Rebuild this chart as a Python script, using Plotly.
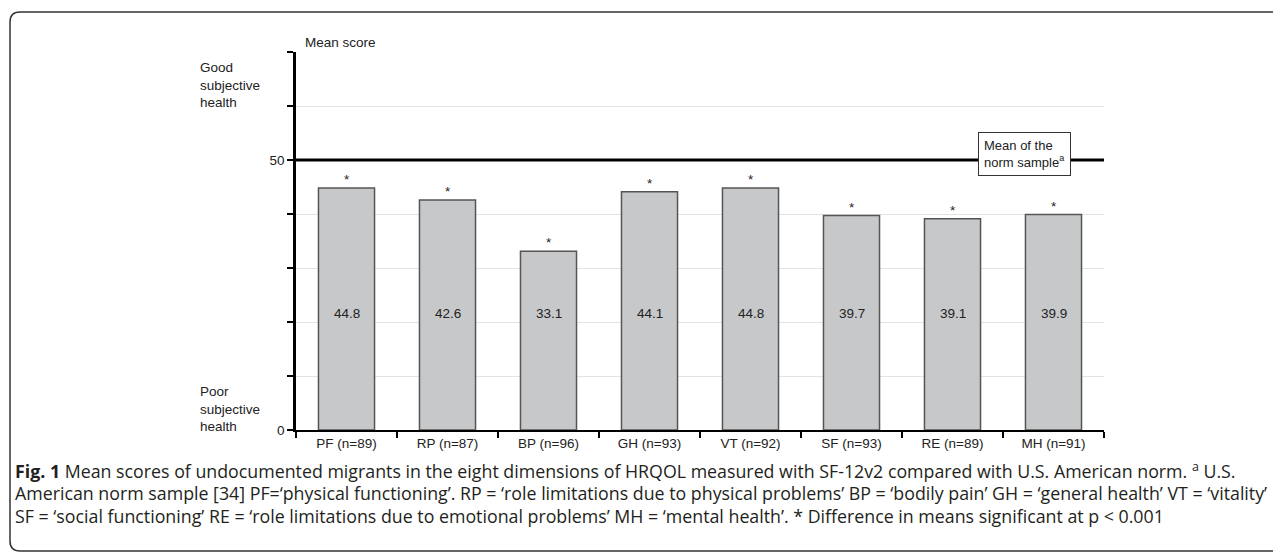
import plotly.graph_objects as go

categories = ["PF (n=89)", "RP (n=87)", "BP (n=96)", "GH (n=93)",
              "VT (n=92)", "SF (n=93)", "RE (n=89)", "MH (n=91)"]
means = [44.8, 42.6, 33.1, 44.1, 44.8, 39.7, 39.1, 39.9]
value_labels = ["44.8", "42.6", "33.1", "44.1", "44.8", "39.7", "39.1", "39.9"]
norm_mean = 50
y_tickvals = [0, 10, 20, 30, 40, 50, 60, 70]
y_ticktext = ["0", "", "", "", "", "50", "", ""]

caption_lines = [
    "<b>Fig. 1</b> Mean scores of undocumented migrants in the eight dimensions of HRQOL measured with SF-12v2 compared with U.S. American norm. <sup>a</sup> U.S.",
    "American norm sample [34] PF=\u2018physical functioning\u2019. RP = \u2018role limitations due to physical problems\u2019 BP = \u2018bodily pain\u2019 GH = \u2018general health\u2019 VT = \u2018vitality\u2019",
    "SF = \u2018social functioning\u2019 RE = \u2018role limitations due to emotional problems\u2019 MH = \u2018mental health\u2019. * Difference in means significant at p < 0.001",
]

OFF = 8  # page body margin
W, H = 1281 - OFF, 554 - OFF
L, R, T, B = 296 - OFF, 1104 - OFF, 52 - OFF, 430 - OFF
PW, PH = R - L, B - T


def px(x):
    return (x - OFF - L) / PW


def py(y):
    return (B - (y - OFF)) / PH


CF = "Liberation Sans, Arial, sans-serif"
TC = "#222222"

fig = go.Figure()
fig.add_trace(go.Bar(
    x=categories, y=means, width=0.555,
    marker=dict(color="#c7c8ca", line=dict(color="#555555", width=1.5)),
    hoverinfo="skip", showlegend=False,
))

annotations = []
for c, m, lab in zip(categories, means, value_labels):
    annotations.append(dict(x=c, y=21.5, xref="x", yref="y", text=lab, showarrow=False,
                            font=dict(family=CF, size=13.5, color=TC)))
    annotations.append(dict(x=c, y=m, xref="x", yref="y", text="*", showarrow=False,
                            yanchor="bottom", yshift=-1,
                            font=dict(family=CF, size=13.5, color=TC)))

annotations += [
    dict(x=px(303), y=py(33), xref="paper", yref="paper", text="Mean score", showarrow=False,
         font=dict(family=CF, size=13.5, color=TC)),
    dict(x=px(198), y=py(85), xref="paper", yref="paper", text="Good<br>subjective<br>health",
         showarrow=False, align="left", xanchor="left", yanchor="middle",
         font=dict(family=CF, size=13.5, color=TC)),
    dict(x=px(198), y=py(409), xref="paper", yref="paper", text="Poor<br>subjective<br>health",
         showarrow=False, align="left", xanchor="left", yanchor="middle",
         font=dict(family=CF, size=13.5, color=TC)),
    dict(x=px(978), y=py(132), xref="paper", yref="paper",
         text="Mean of the<br>norm sample<sup>a</sup>", showarrow=False,
         align="left", xanchor="left", yanchor="top",
         bgcolor="white", bordercolor="#333333", borderwidth=1, borderpad=5,
         font=dict(family=CF, size=13, color=TC)),
]

cap_y = [470, 493, 516]
for line, yy in zip(caption_lines, cap_y):
    annotations.append(dict(x=px(13), y=py(yy), xref="paper", yref="paper", text=line,
                            showarrow=False, xanchor="left", yanchor="middle", align="left",
                            font=dict(family="Open Sans, sans-serif", size=17.8, color="#231f20")))

# rounded frame around the whole figure
x0, y0, x1, y1, r = 10, 12, 1300, 551, 10
path = (f"M {px(x0)},{py(y0 + r)} Q {px(x0)},{py(y0)} {px(x0 + r)},{py(y0)} "
        f"L {px(x1 - r)},{py(y0)} Q {px(x1)},{py(y0)} {px(x1)},{py(y0 + r)} "
        f"L {px(x1)},{py(y1 - r)} Q {px(x1)},{py(y1)} {px(x1 - r)},{py(y1)} "
        f"L {px(x0 + r)},{py(y1)} Q {px(x0)},{py(y1)} {px(x0)},{py(y1 - r)} Z")

shapes = [
    dict(type="path", path=path, xref="paper", yref="paper",
         line=dict(color="#333333", width=1.5), fillcolor="rgba(0,0,0,0)", layer="below"),
    dict(type="line", xref="paper", yref="y", x0=0, x1=1, y0=norm_mean, y1=norm_mean,
         line=dict(color="black", width=3), layer="above"),
]

fig.update_layout(
    width=W, height=H,
    margin=dict(l=L, r=W - R, t=T, b=H - B, pad=0),
    paper_bgcolor="white", plot_bgcolor="white",
    annotations=annotations, shapes=shapes,
    xaxis=dict(type="category", showline=True, linecolor="black", linewidth=2,
               ticks="outside", tickson="boundaries", ticklen=6, tickwidth=2, tickcolor="black",
               tickfont=dict(family=CF, size=13.5, color=TC), showgrid=False,
               range=[-0.5, 7.5]),
    yaxis=dict(range=[0, 70], showline=True, linecolor="black", linewidth=2.5,
               tickvals=y_tickvals, ticktext=y_ticktext, ticks="outside", ticklen=6,
               tickwidth=2, tickcolor="black", showgrid=True, gridcolor="#e3e3e3", gridwidth=1,
               tickfont=dict(family=CF, size=13.5, color=TC), zeroline=False),
)

fig.write_html("out.html")
